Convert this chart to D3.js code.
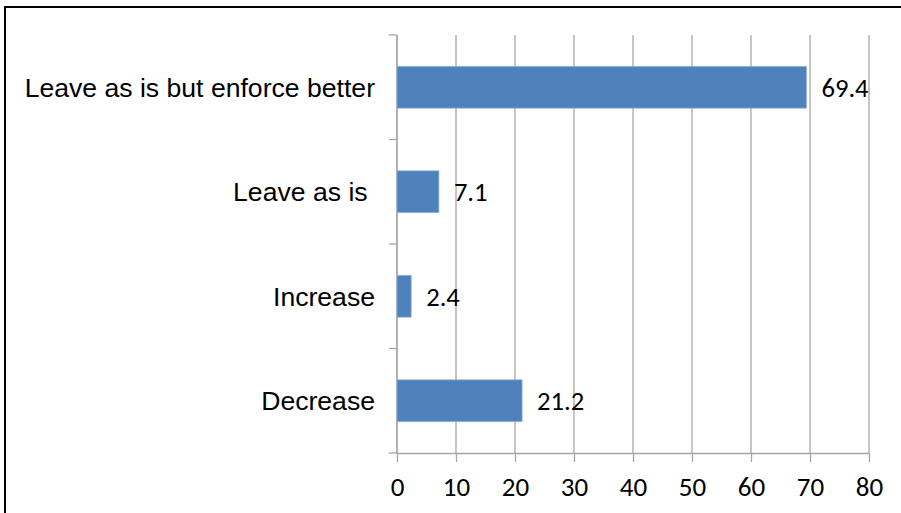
<html>
<head>
<meta charset="utf-8">
<script src="https://d3js.org/d3.v7.min.js"></script>
<style>
  body { margin: 0; background: #fff; }
</style>
</head>
<body>
<div id="chart"></div>
<script>
// data
const categories = ["Leave as is but enforce better", "Leave as is ", "Increase", "Decrease"];
const values = [69.4, 7.1, 2.4, 21.2];
const xTicks = [0, 10, 20, 30, 40, 50, 60, 70, 80];

const W = 901, H = 513;
const margin = {top: 35, right: 32, bottom: 60, left: 397};
const width = W - margin.left - margin.right,
      height = H - margin.top - margin.bottom;

const root = d3.select("#chart").append("svg")
  .attr("width", W).attr("height", H);

// outer frame of the chart area
root.append("rect")
  .attr("x", 5).attr("y", 7)
  .attr("width", W).attr("height", H)
  .attr("fill", "none").attr("stroke", "#000").attr("stroke-width", 2);

const svg = root.append("g")
  .attr("transform", `translate(${margin.left},${margin.top})`);

const x = d3.scaleLinear().domain([0, 80]).range([0, width]);
const y = d3.scaleBand().domain(categories).range([0, height]).paddingInner(0.6).paddingOuter(0.3);

// gridlines
svg.append("g")
  .selectAll("line")
  .data(xTicks)
  .join("line")
    .attr("x1", d => x(d)).attr("x2", d => x(d))
    .attr("y1", 0).attr("y2", height)
    .attr("stroke", "#a6a6a6").attr("stroke-width", 1.3);

// x axis
const xAxis = svg.append("g")
  .attr("transform", `translate(0,${height})`)
  .call(d3.axisBottom(x).tickValues(xTicks).tickSize(9).tickSizeOuter(0).tickPadding(15));
xAxis.select(".domain").attr("stroke", "#a6a6a6").attr("stroke-width", 1.3);
xAxis.selectAll(".tick line").attr("stroke", "#a6a6a6").attr("stroke-width", 1.3);
xAxis.selectAll("text")
  .style("font-family", "Carlito, Lato, 'Open Sans', sans-serif")
  .style("font-size", "27px")
  .attr("fill", "#000");

// y axis: line plus ticks at the band borders
const yEdges = d3.range(categories.length + 1).map(i => i * height / categories.length);
svg.append("line")
  .attr("x1", 0).attr("x2", 0).attr("y1", 0).attr("y2", height)
  .attr("stroke", "#a6a6a6").attr("stroke-width", 1.3);
svg.append("g").selectAll("line")
  .data(yEdges)
  .join("line")
    .attr("x1", -8).attr("x2", 0)
    .attr("y1", d => d).attr("y2", d => d)
    .attr("stroke", "#a6a6a6").attr("stroke-width", 1.3);

svg.append("g").selectAll("text")
  .data(categories)
  .join("text")
    .attr("x", -22)
    .attr("y", d => y(d) + y.bandwidth() / 2)
    .attr("dy", "0.35em")
    .attr("text-anchor", "end")
    .style("font-family", "'Liberation Sans', Arial, sans-serif")
    .style("font-size", "26.6px")
    .style("white-space", "pre")
    .attr("fill", "#000")
    .text(d => d);

// bars
svg.append("g").selectAll("rect")
  .data(values)
  .join("rect")
    .attr("x", x(0))
    .attr("y", (d, i) => y(categories[i]))
    .attr("width", d => x(d) - x(0))
    .attr("height", y.bandwidth())
    .attr("fill", "#4f81bd")
    .attr("stroke", "#8eb1dc").attr("stroke-width", 0.8);

// value labels
svg.append("g").selectAll("text")
  .data(values)
  .join("text")
    .attr("x", d => x(d) + 15)
    .attr("y", (d, i) => y(categories[i]) + y.bandwidth() / 2)
    .attr("dy", "0.35em")
    .style("font-family", "Carlito, Lato, 'Open Sans', sans-serif")
    .style("font-size", "26.6px")
    .attr("fill", "#000")
    .text(d => d.toFixed(1));
</script>
</body>
</html>
